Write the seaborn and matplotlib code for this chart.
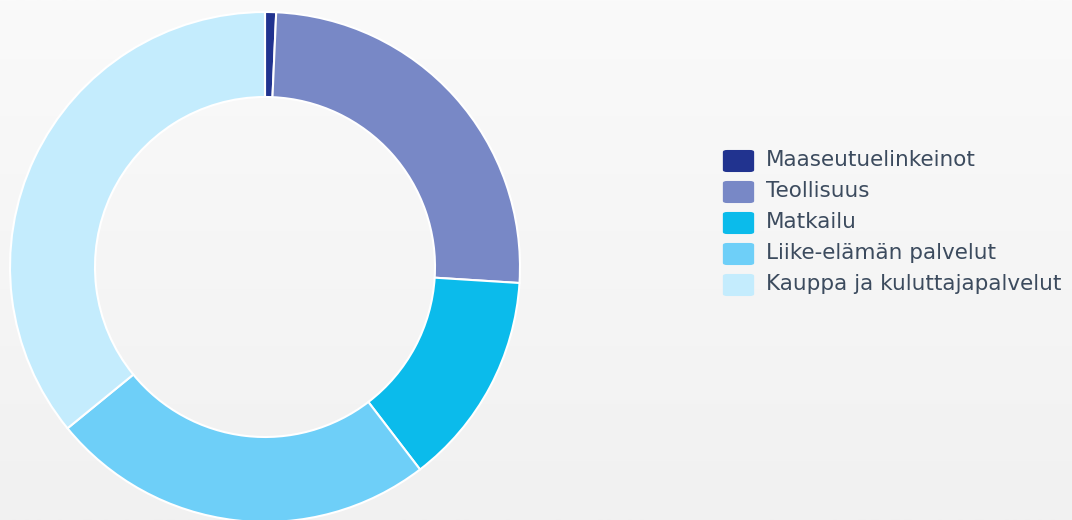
import numpy as np
import matplotlib
matplotlib.use("Agg")
import matplotlib.pyplot as plt
from matplotlib.patches import FancyBboxPatch
import seaborn as sns

labels = ["Maaseutuelinkeinot", "Teollisuus", "Matkailu",
          "Liike-elämän palvelut", "Kauppa ja kuluttajapalvelut"]
shares = [0.7, 25.3, 13.6, 24.5, 35.9]
colors = ["#21338f", "#7888c6", "#0bbbeb", "#6ecff8", "#c4ecfd"]

sns.set_theme(style="white")
plt.rcParams['font.family'] = ['DejaVu Sans']

fig = plt.figure(figsize=(10.72, 5.2), dpi=100)

# background gradient
bg = fig.add_axes([0, 0, 1, 1])
grad = np.linspace(0, 1, 256).reshape(-1, 1)
bg.imshow(grad, aspect="auto", cmap=matplotlib.colors.LinearSegmentedColormap.from_list(
    "bg", ["#fafafa", "#f1f1f1"]), extent=[0, 1, 0, 1])
bg.set_axis_off()

ax = fig.add_axes([10 / 1072, -2 / 520, 510 / 1072, 510 / 520])
ax.pie(shares, colors=colors, startangle=90, counterclock=False, radius=1.0,
       wedgeprops=dict(width=85 / 255, edgecolor="white", linewidth=1.5))
ax.set_xlim(-1, 1)
ax.set_ylim(-1, 1)
ax.set_aspect("equal")
ax.set_axis_off()

# legend
x0, y0, step = 723, 148, 31
for i, (lab, col) in enumerate(zip(labels, colors)):
    top = y0 + i * step
    box = FancyBboxPatch(((x0 + 2) / 1072, 1 - (top + 23) / 520), 27 / 1072, 20 / 520,
                         boxstyle="round,pad=0.002,rounding_size=0.004",
                         transform=fig.transFigure, facecolor=col, edgecolor="none")
    fig.patches.append(box)
    fig.text(766 / 1072, 1 - (top + 12) / 520, lab, fontsize=15.5, color="#3c4b5e",
             va="center", ha="left")

fig.savefig("out.png", dpi=100)
